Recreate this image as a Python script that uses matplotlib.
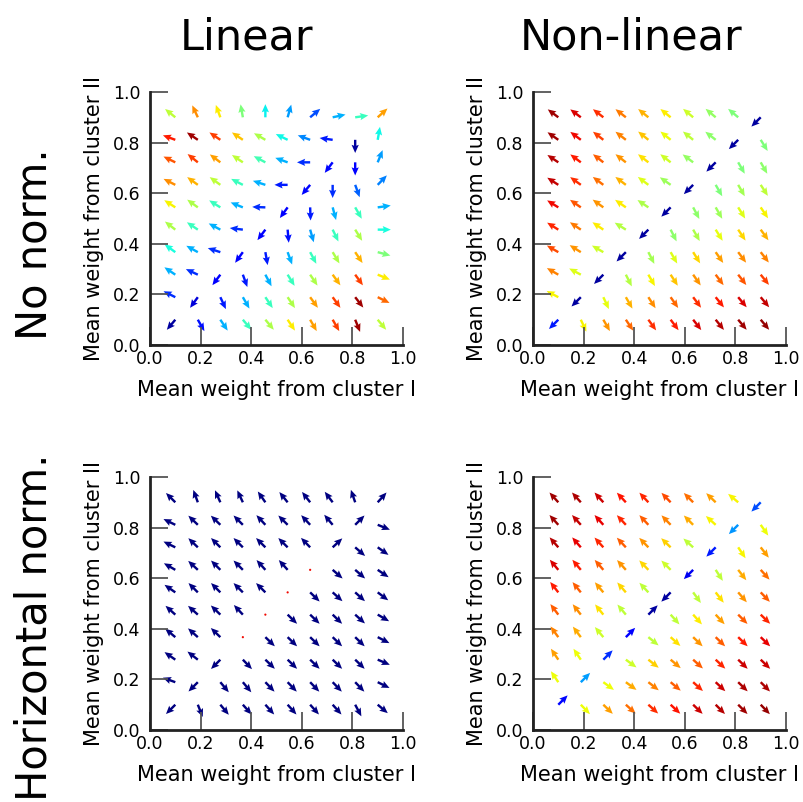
import matplotlib
import numpy as np

matplotlib.use("Agg")
import matplotlib.pyplot as plt
from matplotlib.colors import Normalize

# Grid of weight values at which the flow arrows start (same on both axes).
GRID = [0.1, 0.189, 0.278, 0.367, 0.456, 0.544, 0.633, 0.722, 0.811, 0.9]

COL_TITLES = ["Linear", "Non-linear"]
ROW_TITLES = ["No norm.", "Horizontal norm."]
XLABEL = "Mean weight from cluster I"
YLABEL = "Mean weight from cluster II"
TICKS = [0.0, 0.2, 0.4, 0.6, 0.8, 1.0]

# Arrow directions in degrees, rows listed top (y=0.9) to bottom (y=0.1).
# None = zero-length vector (drawn as a dot).
LIN_NONORM_ANGLE = [
    [141, 115, 110, 100, 90, 74, 40, 12, 8, 42],
    [160, 146, 146, 146, 150, 154, 160, 172, 270, 80],
    [154, 141, 143, 146, 152, 160, 180, 233, 270, 68],
    [153, 144, 144, 153, 162, 180, 230, 270, 290, 46],
    [147, 144, 148, 158, 178, 234, 272, 285, 300, 8],
    [142, 146, 152, 173, 233, 275, 286, 296, 302, 0],
    [144, 151, 162, 234, 280, 290, 298, 301, 304, 345],
    [146, 155, 233, 290, 298, 302, 304, 306, 306, 338],
    [153, 234, 295, 300, 304, 304, 306, 306, 308, 334],
    [230, 300, 304, 310, 310, 304, 300, 300, 292, 310],
]
NONLIN_NONORM_ANGLE = [
    [143, 143, 142, 142, 141, 141, 140, 140, 140, 225],
    [145, 143, 142, 142, 141, 141, 141, 142, 225, 302],
    [146, 143, 142, 142, 142, 142, 143, 225, 300, 300],
    [147, 144, 143, 143, 143, 145, 225, 300, 300, 303],
    [148, 145, 144, 145, 146, 225, 298, 300, 302, 304],
    [148, 146, 146, 148, 225, 297, 300, 302, 304, 306],
    [150, 148, 150, 225, 297, 300, 302, 305, 307, 308],
    [150, 152, 225, 297, 300, 303, 305, 307, 308, 309],
    [152, 225, 295, 300, 303, 305, 307, 309, 310, 310],
    [225, 295, 300, 304, 306, 307, 308, 309, 310, 310],
]
LIN_HNORM_ANGLE = [
    [135, 110, 114, 115, 125, 129, 128, 127, 109, 48],
    [154, 136, 136, 135, 133, 135, 133, 130, 45, 338],
    [154, 136, 135, 135, 135, 135, 134, 43, 319, 325],
    [150, 137, 135, 135, 132, 132, None, 319, 319, 326],
    [145, 135, 135, 135, 135, None, 316, 318, 318, 323],
    [138, 138, 136, 133, None, 316, 316, 316, 318, 330],
    [140, 138, 136, None, 316, 316, 316, 316, 316, 333],
    [145, 142, 225, 314, 316, 316, 316, 316, 316, 337],
    [160, 225, 310, 310, 314, 314, 314, 314, 314, 334],
    [225, 292, 310, 312, 312, 312, 312, 312, 298, 320],
]
NONLIN_HNORM_ANGLE = [
    [132, 132, 132, 133, 133, 134, 135, 136, 140, 225],
    [132, 132, 132, 133, 133, 134, 135, 138, 225, 305],
    [131, 131, 132, 133, 134, 136, 138, 225, 304, 308],
    [130, 130, 131, 132, 134, 135, 225, 303, 308, 312],
    [128, 129, 130, 131, 133, 225, 306, 308, 311, 314],
    [127, 128, 129, 130, 45, 312, 312, 313, 315, 316],
    [126, 127, 130, 45, 321, 318, 316, 316, 316, 316],
    [124, 124, 45, 324, 322, 320, 318, 317, 316, 316],
    [124, 45, 324, 324, 322, 320, 318, 317, 316, 315],
    [45, 314, 316, 318, 318, 317, 316, 315, 315, 314],
]

# Arrow colour values (percent of the jet colour range), same layout.
LIN_NONORM_COLOR = [
    [58, 76, 66, 50, 36, 28, 20, 30, 42, 74],
    [88, 97, 84, 70, 56, 37, 26, 15, 3, 37],
    [82, 84, 74, 58, 43, 30, 17, 13, 12, 28],
    [76, 72, 58, 42, 30, 15, 13, 17, 22, 25],
    [65, 56, 42, 30, 17, 12, 15, 30, 42, 30],
    [56, 42, 30, 17, 12, 14, 28, 42, 56, 38],
    [38, 30, 17, 12, 15, 30, 42, 56, 72, 50],
    [30, 17, 12, 15, 30, 42, 56, 72, 84, 66],
    [17, 8, 15, 30, 42, 56, 74, 84, 97, 80],
    [3, 14, 30, 42, 56, 66, 74, 84, 97, 58],
]
NONLIN_NONORM_COLOR = [
    [97, 92, 86, 78, 72, 66, 60, 53, 50, 3],
    [97, 90, 84, 77, 70, 64, 58, 52, 3, 50],
    [95, 88, 81, 75, 67, 60, 53, 3, 50, 52],
    [94, 86, 79, 72, 62, 54, 3, 50, 55, 58],
    [90, 82, 75, 66, 56, 3, 52, 54, 62, 65],
    [87, 78, 66, 57, 3, 52, 56, 63, 68, 72],
    [83, 75, 60, 3, 55, 62, 68, 74, 76, 77],
    [77, 62, 3, 57, 65, 70, 75, 80, 82, 84],
    [65, 3, 63, 72, 76, 80, 86, 88, 92, 94],
    [15, 65, 75, 80, 86, 88, 92, 95, 97, 98],
]
LIN_HNORM_COLOR = [
    [0, 0, 0, 0, 0, 0, 0, 0, 0, 0],
    [0, 0, 0, 0, 0, 0, 0, 0, 0, 0],
    [0, 0, 0, 0, 0, 0, 0, 0, 0, 0],
    [0, 0, 0, 0, 0, 0, 90, 0, 0, 0],
    [0, 0, 0, 0, 0, 90, 0, 0, 0, 0],
    [0, 0, 0, 0, 90, 0, 0, 0, 0, 0],
    [0, 0, 0, 90, 0, 0, 0, 0, 0, 0],
    [0, 0, 0, 0, 0, 0, 0, 0, 0, 0],
    [0, 0, 0, 0, 0, 0, 0, 0, 0, 0],
    [0, 0, 0, 0, 0, 0, 0, 0, 0, 0],
]
NONLIN_HNORM_COLOR = [
    [97, 96, 93, 89, 87, 83, 79, 74, 65, 20],
    [97, 94, 91, 87, 81, 77, 73, 65, 27, 64],
    [95, 91, 87, 81, 75, 69, 58, 15, 65, 74],
    [92, 88, 81, 75, 68, 60, 10, 58, 73, 79],
    [88, 81, 74, 68, 58, 3, 58, 67, 75, 81],
    [81, 76, 67, 58, 3, 58, 66, 74, 81, 87],
    [77, 73, 60, 12, 58, 67, 75, 81, 88, 91],
    [74, 64, 17, 60, 69, 75, 81, 87, 93, 93],
    [64, 28, 64, 73, 77, 81, 87, 93, 96, 96],
    [13, 64, 74, 79, 86, 89, 93, 95, 97, 98],
]

ARROW_LEN = 0.052


def draw_field(ax, angles, colours):
    ang = np.array(angles, dtype=float)[::-1]  # flip so first row is bottom
    c = np.array(colours, dtype=float)[::-1] / 100.0
    zero = np.isnan(ang)
    rad = np.radians(np.where(zero, 0.0, ang))
    length = np.where(zero, 0.0, ARROW_LEN)
    X, Y = np.meshgrid(GRID, GRID)
    ax.quiver(
        X, Y, length * np.cos(rad), length * np.sin(rad), c,
        cmap="jet", norm=Normalize(0, 1),
        angles="xy", scale_units="xy", scale=1,
        width=0.0095, headwidth=3, headlength=3.4, headaxislength=3.0,
    )


def style_axes(ax):
    ax.set_xlim(0, 1)
    ax.set_ylim(0, 1)
    ax.set_xticks(TICKS)
    ax.set_yticks(TICKS)
    for side in ("top", "right"):
        ax.spines[side].set_visible(False)
    for side in ("left", "bottom"):
        ax.spines[side].set_linewidth(2)
        ax.spines[side].set_color("#222222")
    ax.tick_params(direction="in", length=13, width=1.3, color="#555555",
                   labelsize=12.5, top=False, right=False)
    ax.tick_params(axis="y", pad=7)
    ax.set_xlabel(XLABEL, fontsize=15, labelpad=9)
    ax.set_ylabel(YLABEL, fontsize=15, labelpad=6)


fig = plt.figure(figsize=(8.04, 8.02), dpi=100)
panels = [
    (LIN_NONORM_ANGLE, LIN_NONORM_COLOR),
    (NONLIN_NONORM_ANGLE, NONLIN_NONORM_COLOR),
    (LIN_HNORM_ANGLE, LIN_HNORM_COLOR),
    (NONLIN_HNORM_ANGLE, NONLIN_HNORM_COLOR),
]
lefts = [150 / 804, 533 / 804]
bottoms = [(802 - 345) / 802, (802 - 730) / 802]
w, h = 253 / 804, 253 / 802
for i, (angles, colours) in enumerate(panels):
    row, col = divmod(i, 2)
    ax = fig.add_axes([lefts[col], bottoms[row], w, h])
    draw_field(ax, angles, colours)
    style_axes(ax)

fig.text(247 / 804, 1 - 50 / 802, COL_TITLES[0], fontsize=31, ha="center", va="baseline")
fig.text(631 / 804, 1 - 50 / 802, COL_TITLES[1], fontsize=31, ha="center", va="baseline")
fig.text(35 / 804, 1 - 244 / 802, ROW_TITLES[0], fontsize=30, rotation=90, ha="center", va="center")
fig.text(35 / 804, 1 - 627 / 802, ROW_TITLES[1], fontsize=30, rotation=90, ha="center", va="center")

fig.savefig("out.png", dpi=100)
